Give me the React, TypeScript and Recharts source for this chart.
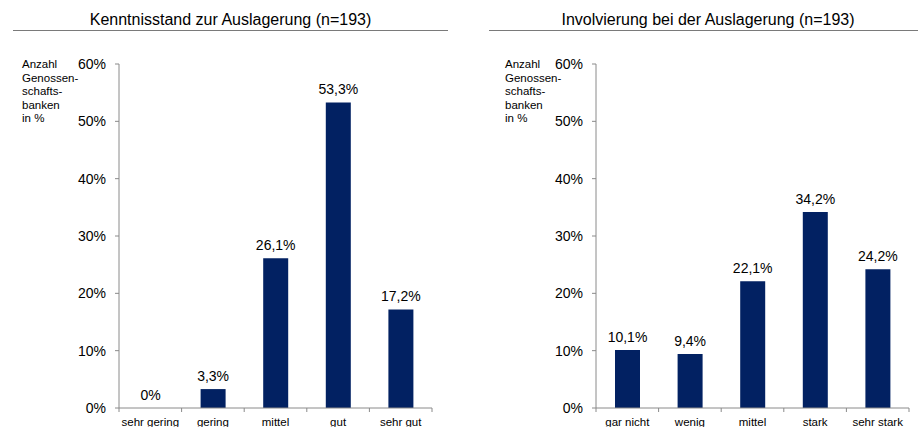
import { BarChart, Bar, XAxis, YAxis, LabelList } from "recharts"

const kenntnisCategories = ["sehr gering", "gering", "mittel", "gut", "sehr gut"]
const kenntnisValues = [0, 3.3, 26.1, 53.3, 17.2]

const involvierungCategories = ["gar nicht", "wenig", "mittel", "stark", "sehr stark"]
const involvierungValues = [10.1, 9.4, 22.1, 34.2, 24.2]

const yTicks = [0, 10, 20, 30, 40, 50, 60]
const yAxisLabelLines = ["Anzahl", "Genossen-", "schafts-", "banken", "in %"]

const FONT = "'Liberation Sans', Arial, sans-serif"
const BAR_COLOR = "#022162"
const AXIS_COLOR = "#8a8a8a"

const fmt = (v: any) => (Number(v) === 0 ? "0%" : Number(v).toFixed(1).replace(".", ",") + "%")

interface PanelProps {
  title: string
  categories: string[]
  values: number[]
  left: number
  width: number
  marginRight: number
  labelX: number
  titleLeft: number
  titleWidth: number
}

function Panel({ title, categories, values, left, width, marginRight, labelX, titleLeft, titleWidth }: PanelProps) {
  const data = categories.map((c, i) => ({ name: c, value: values[i] }))
  const yAxisWidth = 119
  const band = (width - marginRight - yAxisWidth) / categories.length

  // category axis: tick marks sit on the band edges, labels in the middle
  const renderTick = (props: any) => {
    const { x, y, payload, index } = props
    const axisY = y - 10
    return (
      <g>
        <line x1={x - band / 2} x2={x - band / 2} y1={axisY} y2={axisY + 4} stroke={AXIS_COLOR} />
        {index === categories.length - 1 && (
          <line x1={x + band / 2} x2={x + band / 2} y1={axisY} y2={axisY + 4} stroke={AXIS_COLOR} />
        )}
        <text x={x} y={y} dy="0.71em" textAnchor="middle" fontSize={11.5} fill="#000" fontFamily={FONT}>
          {payload.value}
        </text>
      </g>
    )
  }

  const renderYLabel = () => (
    <text x={labelX} y={68} fontSize={11.5} fill="#000" fontFamily={FONT}>
      {yAxisLabelLines.map((l, i) => (
        <tspan key={l} x={labelX} y={68 + i * 13.6}>
          {l}
        </tspan>
      ))}
    </text>
  )

  return (
    <>
      <div
        style={{
          position: "absolute",
          left: titleLeft,
          top: 11,
          width: titleWidth,
          textAlign: "center",
          fontFamily: FONT,
          fontSize: 16,
          color: "#000",
          lineHeight: "18px",
          borderBottom: "1.5px solid #7a7a7a",
          paddingBottom: 1,
        }}
      >
        {title}
      </div>
      <div style={{ position: "absolute", left, top: 0 }}>
        <BarChart
          width={width}
          height={427}
          data={data}
          margin={{ top: 64, right: marginRight, bottom: 0, left: 0 }}
          barCategoryGap={0}
        >
          <XAxis
            dataKey="name"
            interval={0}
            tickLine={false}
            tickSize={4}
            tickMargin={6}
            height={19}
            axisLine={{ stroke: AXIS_COLOR }}
            tick={renderTick}
          />
          <YAxis
            width={yAxisWidth}
            domain={[0, 60]}
            ticks={yTicks}
            interval={0}
            tickFormatter={(v: any) => `${v}%`}
            tick={{ fill: "#000", fontSize: 14, fontFamily: FONT }}
            tickSize={4}
            tickMargin={9}
            tickLine={{ stroke: AXIS_COLOR }}
            axisLine={{ stroke: AXIS_COLOR }}
            label={{ content: renderYLabel }}
          />
          <Bar dataKey="value" fill={BAR_COLOR} barSize={25} minPointSize={0.01} isAnimationActive={false}>
            <LabelList
              dataKey="value"
              position="top"
              offset={8}
              formatter={fmt}
              style={{ fill: "#000", fontSize: 14, fontFamily: FONT }}
            />
          </Bar>
        </BarChart>
      </div>
    </>
  )
}

export default function App() {
  return (
    <div style={{ position: "absolute", left: 0, top: 0, width: 918, height: 427, overflow: "hidden", background: "#fff" }}>
      <Panel
        title="Kenntnisstand zur Auslagerung (n=193)"
        categories={kenntnisCategories}
        values={kenntnisValues}
        left={0}
        width={460}
        marginRight={28}
        labelX={22}
        titleLeft={13}
        titleWidth={435}
      />
      <Panel
        title="Involvierung bei der Auslagerung (n=193)"
        categories={involvierungCategories}
        values={involvierungValues}
        left={477}
        width={441}
        marginRight={9}
        labelX={28}
        titleLeft={489}
        titleWidth={438}
      />
    </div>
  )
}
